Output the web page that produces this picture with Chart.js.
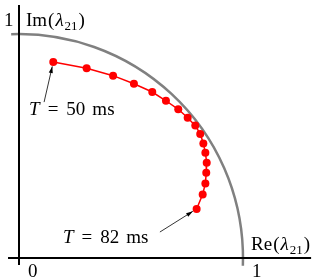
<!DOCTYPE html>
<html>
<head>
<meta charset="utf-8">
<script src="https://cdn.jsdelivr.net/npm/chart.js@4/dist/chart.umd.min.js"></script>
<style>
  html, body { margin: 0; padding: 0; background: #fff; }
  #wrap { width: 319px; height: 280px; }
</style>
</head>
<body>
<div id="wrap"><canvas id="myChart"></canvas></div>
<script>
// eigenvalue lambda_21 for T = 50, 52, ... 82 ms
const periods = [50, 52, 54, 56, 58, 60, 62, 64, 66, 68, 70, 72, 74, 76, 78, 80, 82];
const reValues = [0.153, 0.302, 0.420, 0.513, 0.595, 0.656, 0.711, 0.753, 0.787, 0.809,
                  0.823, 0.832, 0.838, 0.836, 0.832, 0.820, 0.793];
const imValues = [0.875, 0.847, 0.814, 0.778, 0.741, 0.702, 0.664, 0.626, 0.591, 0.554,
                  0.511, 0.470, 0.425, 0.381, 0.333, 0.284, 0.219];

const FONT = '"Liberation Serif", "DejaVu Serif", serif';

let points = [];
for (let i = 0; i < periods.length; i++) {
    points.push({x: reValues[i], y: imValues[i]});
}

// axes, unit circle, labels and arrows
const decorations = {
    id: 'decorations',
    beforeDatasetsDraw(chart) {
        const ctx = chart.ctx;
        const xs = chart.scales.x, ys = chart.scales.y;
        const px = v => xs.getPixelForValue(v);
        const py = v => ys.getPixelForValue(v);
        ctx.save();

        // unit circle
        const r = px(1) - px(0);
        ctx.strokeStyle = '#808080';
        ctx.lineWidth = 2.5;
        ctx.beginPath();
        ctx.arc(px(0), py(0), r, -92 * Math.PI / 180, 2 * Math.PI / 180);
        ctx.stroke();

        // axes
        ctx.strokeStyle = '#000';
        ctx.lineWidth = 2;
        ctx.beginPath();
        ctx.moveTo(px(-0.049), py(0));
        ctx.lineTo(px(1.304), py(0));
        ctx.moveTo(px(0), py(1.129));
        ctx.lineTo(px(0), py(-0.031));
        ctx.stroke();
        ctx.restore();
    },
    afterDatasetsDraw(chart) {
        const ctx = chart.ctx;
        const xs = chart.scales.x, ys = chart.scales.y;
        const px = v => xs.getPixelForValue(v);
        const py = v => ys.getPixelForValue(v);
        ctx.save();
        ctx.fillStyle = '#000';
        ctx.textBaseline = 'alphabetic';

        function label(x, y, parts) {
            let cx = px(x);
            const by = py(y);
            for (const p of parts) {
                cx += p.gap || 0;
                ctx.font = p.f;
                ctx.fillText(p.t, cx, by + (p.dy || 0));
                cx += ctx.measureText(p.t).width;
            }
        }
        const rm = '19px ' + FONT, it = 'italic 19px ' + FONT, sm = '13px ' + FONT;
        const sub = (name) => [{t: name, f: rm}, {t: '(', f: rm, gap: 1}, {t: 'λ', f: it, gap: 1},
                               {t: '21', f: sm, dy: 4, gap: 1}, {t: ')', f: rm, gap: 1}];
        const tlab = (num) => [{t: 'T', f: it}, {t: '=', f: rm, gap: 8}, {t: num, f: rm, gap: 8},
                               {t: 'ms', f: rm, gap: 7}];

        label(-0.067, 1.036, [{t: '1', f: rm}]);
        label(0.031, 1.036, sub('Im'));
        label(1.036, 0.036, sub('Re'));
        label(0.040, -0.085, [{t: '0', f: rm}]);
        label(1.040, -0.085, [{t: '1', f: rm}]);
        label(0.045, 0.638, tlab('50'));
        label(0.196, 0.067, tlab('82'));

        function arrow(x0, y0, i) {
            const sx = px(x0), sy = py(y0);
            let ex = px(reValues[i]), ey = py(imValues[i]);
            const d = Math.hypot(ex - sx, ey - sy);
            ex -= (ex - sx) / d * 4.5;
            ey -= (ey - sy) / d * 4.5;
            const a = Math.atan2(ey - sy, ex - sx);
            ctx.strokeStyle = '#000';
            ctx.lineWidth = 0.8;
            ctx.beginPath();
            ctx.moveTo(sx, sy);
            ctx.lineTo(ex, ey);
            ctx.stroke();
            ctx.beginPath();
            ctx.moveTo(ex, ey);
            ctx.lineTo(ex - 7 * Math.cos(a - 0.3), ey - 7 * Math.sin(a - 0.3));
            ctx.lineTo(ex - 7 * Math.cos(a + 0.3), ey - 7 * Math.sin(a + 0.3));
            ctx.closePath();
            ctx.fill();
        }
        arrow(0.112, 0.696, 0);
        arrow(0.629, 0.116, periods.length - 1);
        ctx.restore();
    }
};

let config = {
    type: 'scatter',
    data: {
        datasets: [
            {
                data: points,
                showLine: true,
                borderColor: '#ff0000',
                backgroundColor: '#ff0000',
                borderWidth: 1.5,
                pointRadius: 4,
                pointBorderWidth: 0,
                tension: 0
            }
        ]
    },
    options: {
        responsive: true,
        maintainAspectRatio: false,
        animation: false,
        layout: { padding: 0, autoPadding: false },
        scales: {
            x: { type: 'linear', min: -19 / 224, max: 300 / 224, display: false },
            y: { type: 'linear', min: -22 / 224, max: 258 / 224, display: false }
        },
        plugins: {
            legend: { display: false },
            tooltip: { enabled: false }
        }
    },
    plugins: [decorations]
};

window.chart = new Chart(document.getElementById('myChart'), config);
</script>
</body>
</html>
